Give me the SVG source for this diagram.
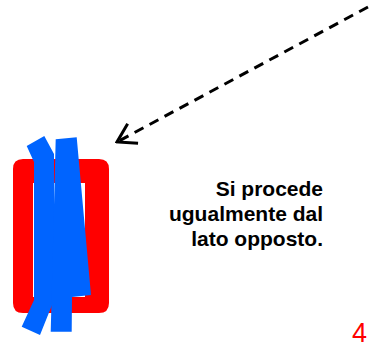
<svg xmlns="http://www.w3.org/2000/svg" width="370" height="348" viewBox="0 0 370 348">
<defs>
<style>
.lbl{font-family:"Liberation Sans",Arial,sans-serif;font-weight:bold;font-size:21px;fill:#000;text-anchor:end}
.num{font-family:"Liberation Sans",Arial,sans-serif;font-size:27px;fill:#ff0000;text-anchor:end}
.blue{fill:#0064ff}
</style>
<marker id="arr" markerUnits="userSpaceOnUse" markerWidth="30" markerHeight="30" refX="28" refY="15" orient="auto" viewBox="0 0 30 30">
<path d="M10 4 L28 15 L10 26" fill="none" stroke="#000" stroke-width="3" stroke-linecap="butt" stroke-linejoin="miter"/>
</marker>
</defs>
<rect width="370" height="348" fill="#fff"/>
<g id="frame">
<path d="M23 159 H99 Q109 159 109 169 V303 Q109 313 99 313 H23 Q13 313 13 303 V169 Q13 159 23 159 Z M33 183 V297 H85 V183 Z" fill="#ff0000" fill-rule="evenodd"/>
</g>
<g id="strips">
<polygon class="blue" points="26.7,146 44.3,136 54,154 54,300 40,335 21.7,326.7 34,300 34,162"/>
<polygon class="blue" points="55.7,139.3 76.7,137.3 91,295 72,297 71.7,331.7 50.7,331.7"/>
</g>
<g id="connectors">
<line x1="368" y1="7" x2="117" y2="142" stroke="#000" stroke-width="3" stroke-dasharray="10,7" marker-end="url(#arr)"/>
</g>
<g id="label">
<text class="lbl" x="323" y="196">Si procede</text>
<text class="lbl" x="323" y="221">ugualmente dal</text>
<text class="lbl" x="323" y="246">lato opposto.</text>
</g>
<g id="pagenum">
<text class="num" x="367" y="342">4</text>
</g>
</svg>
